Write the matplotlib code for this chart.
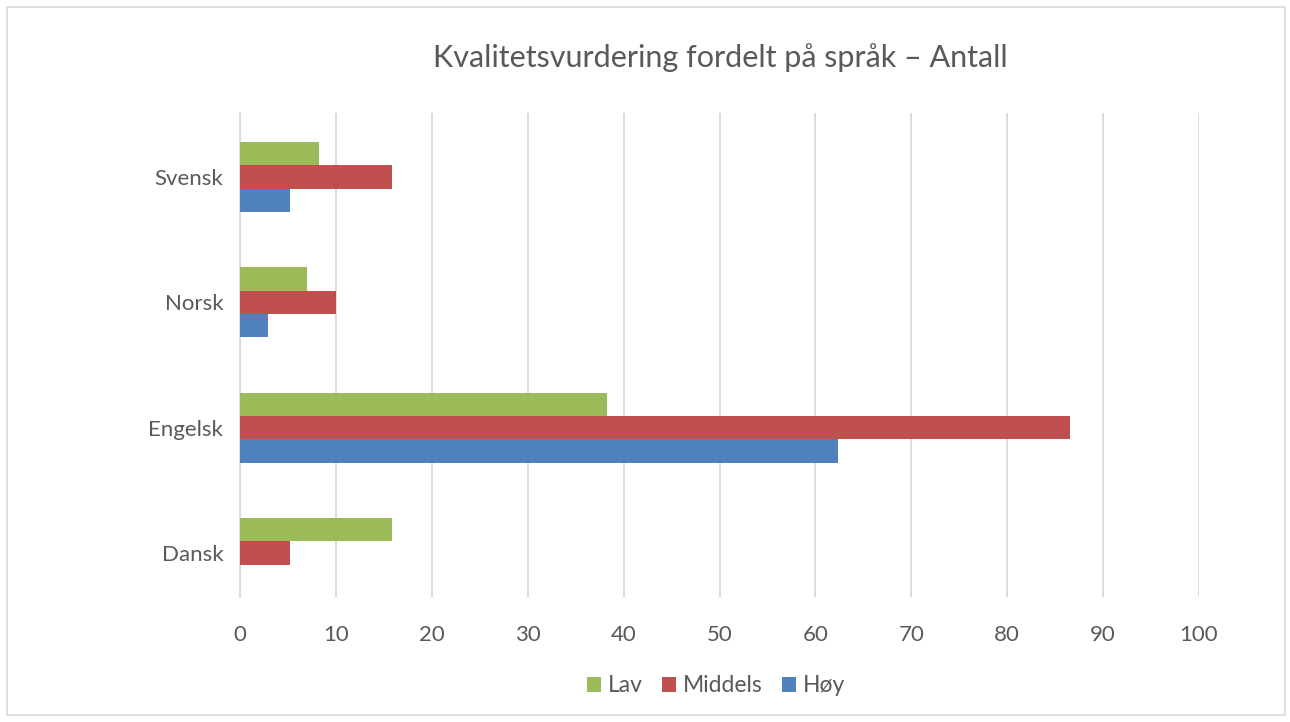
import matplotlib
matplotlib.use("Agg")
import matplotlib.pyplot as plt
from matplotlib.patches import Rectangle, Patch

categories = ["Dansk", "Engelsk", "Norsk", "Svensk"]
lav = [15.8, 38.3, 7.0, 8.2]
middels = [5.2, 86.6, 10.0, 15.8]
hoy = [0.0, 62.4, 2.9, 5.2]
series_names = ["Lav", "Middels", "Høy"]
colors = ["#9BBB59", "#C0504D", "#4F81BD"]
xticks = [0, 10, 20, 30, 40, 50, 60, 70, 80, 90, 100]

plt.rcParams['font.family'] = ['Lato', 'DejaVu Sans']
W, H = 1290, 722
fig = plt.figure(figsize=(W / 100, H / 100), dpi=100)
fig.patches.append(Rectangle((7 / W, 7 / H), (1285 - 7) / W, (715 - 7) / H,
                             transform=fig.transFigure, fill=False,
                             edgecolor="#D9D9D9", linewidth=1.2))

left, right, top, bottom = 240, 1199, 113, 597
ax = fig.add_axes([left / W, 1 - bottom / H, (right - left) / W, (bottom - top) / H])

bh = 0.186
ys = list(range(len(categories)))
for vals, off, c, name in zip([lav, middels, hoy], [bh, 0, -bh], colors, series_names):
    ax.barh([y + off for y in ys], vals, height=bh, color=c, label=name, zorder=3)

ax.set_xlim(0, 100)
ax.set_ylim(-0.351, 3.511)
ax.set_xticks(xticks)
ax.set_xticklabels([str(t) for t in xticks])
ax.set_yticks(ys)
ax.set_yticklabels(categories)
ax.grid(axis="x", color="#D9D9D9", linewidth=1.3, zorder=0)
ax.grid(axis="y", visible=False)
for s in ["top", "right", "bottom"]:
    ax.spines[s].set_visible(False)
ax.spines["left"].set_color("#D9D9D9")
ax.spines["left"].set_linewidth(1.3)
ax.tick_params(axis="both", length=0, labelsize=16, colors="#595959")
ax.tick_params(axis="x", pad=20)
ax.tick_params(axis="y", pad=12)

fig.text(720 / W, 1 - 58 / H, "Kvalitetsvurdering fordelt på språk – Antall",
         ha="center", va="center", fontsize=22, color="#595959")

handles = [Patch(facecolor=c, label=n) for c, n in zip(colors, series_names)]
fig.legend(handles=handles, loc="center", bbox_to_anchor=(716 / W, 1 - 686 / H),
           ncol=3, frameon=False, fontsize=16.5, labelcolor="#595959",
           handlelength=0.6, handleheight=0.6, handletextpad=0.3, columnspacing=0.85)

fig.savefig("out.png", dpi=100)
